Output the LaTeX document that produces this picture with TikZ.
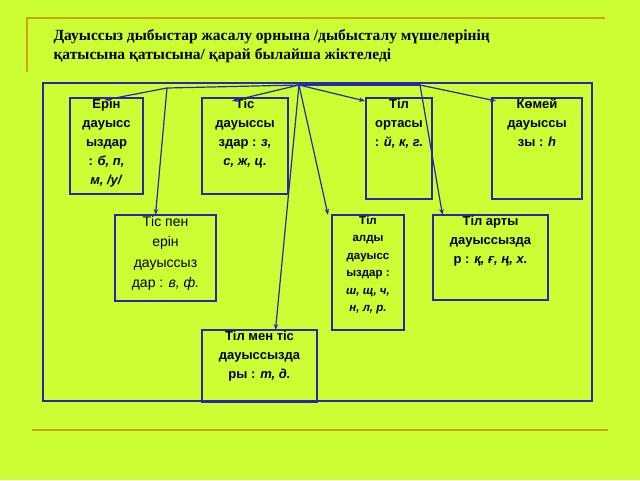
\documentclass[tikz,border=0pt]{standalone}
\usepackage{fontspec}
\setmainfont{Liberation Sans}
\newfontfamily\titlefont{Liberation Serif}
\usetikzlibrary{positioning, arrows.meta}
\definecolor{slidebg}{RGB}{204,255,51}
\definecolor{framblue}{RGB}{40,40,170}
\definecolor{rulegold}{RGB}{210,160,20}
\newcommand{\boxtext}[3]{\parbox[t][#2][t]{#1}{\centering #3}}

\begin{document}
\begin{tikzpicture}[x=1pt, y=-1pt,
  >={Stealth[length=6pt,width=4.5pt]},
  box/.style={draw=framblue, line width=1.8pt, anchor=north, inner sep=1pt,
    font=\bfseries\fontsize{13}{19}\selectfont},
  link/.style={->, framblue, line width=1.2pt}
]
% Background
\fill[slidebg] (0,0) rectangle (640,480);
\useasboundingbox (0,0) rectangle (640,480);
% Gold rules
\draw[rulegold, line width=1.4pt] (27,72) -- (27,18) -- (605,18);
\draw[rulegold, line width=1.4pt] (32,430) -- (608,430);
% Title
\node[anchor=north west, align=left, font=\titlefont\bfseries\fontsize{15.5}{19}\selectfont]
  (title) at (50,26) {Дауыссыз дыбыстар жасалу орнына /дыбысталу мүшелерінің\\қатысына қатысына/ қарай былайша жіктеледі};
% Outer frame
\draw[framblue, line width=1.8pt] (43,83) rectangle (592,401);
% Boxes
\node[box] (erin) at (106.5,97)
  {\boxtext{71pt}{94pt}{Ерін\\дауысс\\ыздар\\: \textit{б, п,}\\\textit{м, /у/}}};
\node[box] (tis) at (245,97)
  {\boxtext{84pt}{94pt}{Тіс\\дауыссы\\здар : \textit{з,}\\\textit{с, ж, ц.}}};
\node[box] (orta) at (399,97)
  {\boxtext{64pt}{99pt}{Тіл\\ортасы\\: \textit{й, к, г.}}};
\node[box] (komei) at (537,97)
  {\boxtext{88pt}{99pt}{Көмей\\дауыссы\\зы : \textit{һ}}};
\node[box, font=\fontsize{14}{20.5}\selectfont] (tiserin) at (165.5,214)
  {\boxtext{99pt}{84pt}{Тіс пен\\ерін\\дауыссыз\\дар : \textit{в, ф.}}};
\node[box, font=\bfseries\fontsize{11.5}{17.5}\selectfont] (aldy) at (368,214)
  {\boxtext{70pt}{113pt}{Тіл\\алды\\дауысс\\ыздар :\\\textit{ш, щ, ч,}\\\textit{н, л, р.}}};
\node[box] (arty) at (490.5,214)
  {\boxtext{113pt}{83pt}{Тіл арты\\дауыссызда\\р : \textit{қ, ғ, ң, х.}}};
\node[box] (menTis) at (259.5,329)
  {\boxtext{113pt}{70pt}{Тіл мен тіс\\дауыссызда\\ры : \textit{т, д.}}};
% Hub and branch points
\coordinate (hub) at (299,85);
\coordinate (kleft) at (167,88);
\coordinate (kright) at (420,85);
% Connectors
\draw[framblue, line width=1.2pt] (hub) -- (kleft);
\draw[framblue, line width=1.2pt] (hub) -- (kright);
\draw[link] (kleft) -- ([xshift=-2pt,yshift=-3pt]erin.north);
\draw[link] (kleft) -- ([xshift=-10pt,yshift=-1pt]tiserin.north);
\draw[link] (hub) -- ([xshift=-13pt,yshift=-4pt]tis.north);
\draw[link] (hub) -- ([xshift=-34pt,yshift=-4pt]orta.north);
\draw[link] (hub) -- ([xshift=-40pt,yshift=-1pt]aldy.north);
\draw[link] (hub) -- ([xshift=16pt,yshift=-1pt]menTis.north);
\draw[link] (kright) -- ([xshift=-41pt,yshift=-4pt]komei.north);
\draw[link] (kright) -- ([xshift=-48pt,yshift=-1pt]arty.north);
\end{tikzpicture}
\end{document}
